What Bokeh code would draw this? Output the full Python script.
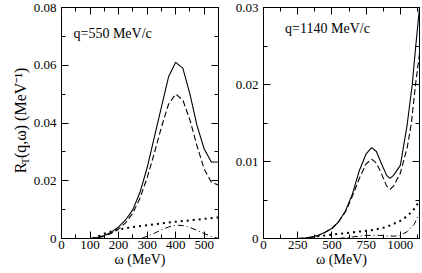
import math
from bokeh.plotting import figure
from bokeh.layouts import row
from bokeh.models import Range1d, LinearAxis, Label, SingleIntervalTicker, CustomJSTickFormatter
from bokeh.embed import file_html
from bokeh.resources import INLINE

FONT = "Liberation Serif"

# ---------------- data: q = 550 MeV/c ----------------
w1_main = [100, 125, 150, 175, 200, 225, 250, 275, 300, 325, 350, 375, 400, 425, 450, 475, 500, 525, 550]
r1_solid = [0, 0.0003, 0.001, 0.0022, 0.004, 0.0065, 0.0100, 0.0160, 0.0245, 0.0350, 0.0455, 0.0560, 0.0610,
            0.0590, 0.0500, 0.0390, 0.0310, 0.0265, 0.0265]
r1_dashed = [0, 0.0002, 0.0008, 0.0018, 0.0033, 0.0055, 0.0088, 0.0140, 0.0210, 0.0295, 0.0385, 0.0465, 0.0500,
             0.0480, 0.0410, 0.0320, 0.0240, 0.0195, 0.0185]
w1_dot = [110, 150, 200, 250, 300, 350, 400, 450, 500, 550]
r1_dot = [0, 0.0017, 0.0031, 0.0040, 0.0046, 0.0052, 0.0058, 0.0063, 0.0068, 0.0073]
w1_dd = [280, 300, 325, 350, 375, 400, 425, 450, 475, 500, 525, 550]
r1_dd = [0, 0.0008, 0.0018, 0.0030, 0.0040, 0.0046, 0.0045, 0.0038, 0.0028, 0.0017, 0.0007, 0.0]

# ---------------- data: q = 1140 MeV/c ----------------
w2_main = [250, 300, 350, 400, 450, 500, 550, 600, 650, 700, 750, 790, 825, 860, 900, 925, 950, 1000, 1050,
           1087, 1110, 1140]
r2_solid = [0, 0.00005, 0.0002, 0.0004, 0.0008, 0.0013, 0.0022, 0.0036, 0.0058, 0.0088, 0.0110, 0.0118, 0.0113,
            0.0098, 0.0082, 0.0078, 0.0082, 0.0095, 0.0148, 0.0200, 0.0245, 0.0300]
w2_dash = [250, 300, 350, 400, 450, 500, 550, 600, 650, 700, 750, 790, 825, 860, 900, 925, 950, 1000, 1050,
           1080, 1111, 1140]
r2_dashed = [0, 0.00005, 0.0002, 0.0004, 0.0008, 0.0013, 0.0022, 0.0035, 0.0055, 0.0078, 0.0097, 0.0103, 0.0098,
             0.0085, 0.0068, 0.0064, 0.0068, 0.0085, 0.0118, 0.0149, 0.0200, 0.0240]
w2_dot = [350, 400, 500, 600, 700, 800, 900, 1000, 1050, 1100, 1140]
r2_dot = [0.0001, 0.0003, 0.0005, 0.0007, 0.0009, 0.0011, 0.0015, 0.0023, 0.0029, 0.0038, 0.0049]
w2_dd = [550, 650, 750, 850, 950, 1000, 1050, 1100, 1140]
r2_dd = [0, 0.0002, 0.0004, 0.0004, 0.0003, 0.0004, 0.0009, 0.0018, 0.0033]

x1_ticks = (100, 50)
y1_ticks = (0.02, 0.01)
x2_ticks = (250, 125)
y2_ticks = (0.01, 0.005)

H = 273


def style_axis(ax, major, minor, show_labels):
    ax.ticker = SingleIntervalTicker(interval=major, num_minor_ticks=int(round(major / minor)))
    ax.major_tick_in = 7
    ax.major_tick_out = 0
    ax.minor_tick_in = 4
    ax.minor_tick_out = 0
    ax.axis_line_color = "black"
    ax.major_tick_line_color = "black"
    ax.minor_tick_line_color = "black"
    ax.major_label_text_font = FONT
    ax.major_label_text_color = "black"
    ax.axis_label_text_font = FONT
    ax.axis_label_text_font_style = "normal"
    ax.axis_label_text_color = "black"
    if show_labels:
        ax.major_label_text_font_size = "13px"
        ax.major_label_standoff = 5
        ax.axis_label_text_font_size = "14px"
        ax.axis_label_standoff = 0
        ax.major_label_overrides = {0: "0"}
    else:
        ax.major_label_text_font_size = "0px"
        ax.major_label_standoff = 0
        ax.formatter = CustomJSTickFormatter(code="return ''")


def make_panel(xmax, ymax, xt, yt, width, bl, br, qtext, qx, qy):
    p = figure(width=width, height=H, output_backend="svg", toolbar_location=None,
               x_range=Range1d(0, xmax), y_range=Range1d(0, ymax),
               min_border_left=bl, min_border_right=br, min_border_top=7, min_border_bottom=35,
               background_fill_color="white", border_fill_color="white")
    p.outline_line_color = "black"
    p.outline_line_alpha = 1
    p.xgrid.visible = False
    p.ygrid.visible = False
    style_axis(p.xaxis[0], xt[0], xt[1], True)
    style_axis(p.yaxis[0], yt[0], yt[1], True)
    p.xaxis[0].major_label_standoff = 2
    p.xaxis[0].axis_label = "ω (MeV)"
    top = LinearAxis()
    right = LinearAxis()
    style_axis(top, xt[0], xt[1], False)
    style_axis(right, yt[0], yt[1], False)
    p.add_layout(top, "above")
    p.add_layout(right, "right")
    p.add_layout(Label(x=qx, y=qy, text=qtext, text_font=FONT, text_font_size="14px",
                       text_baseline="middle", text_color="black"))
    return p


# narrow panel that only carries the rotated y-axis title
p0 = figure(width=30, height=H, output_backend="svg", toolbar_location=None,
            x_range=Range1d(0, 30), y_range=Range1d(0, H), x_axis_type=None, y_axis_type=None,
            min_border=0, min_border_left=0, min_border_right=0, min_border_top=0, min_border_bottom=0)
p0.outline_line_color = None
p0.xgrid.visible = False
p0.ygrid.visible = False
ylab = [("R", "16px", 0, 0), ("T", "11px", 4, 10.7), ("(q,ω) (MeV⁻¹)", "16px", 0, 18)]
for txt, fs, dx, dy in ylab:
    p0.add_layout(Label(x=20 + dx, y=77 + dy, text=txt, angle=math.pi / 2, text_font=FONT,
                        text_font_size=fs, text_baseline="middle", text_align="left",
                        text_color="black"))

p1 = make_panel(550, 0.08, x1_ticks, y1_ticks, 202, 28, 14, "q=550 MeV/c", 42, 0.0711)
p1.line(w1_main, r1_solid, line_color="black", line_width=1.1)
p1.line(w1_main, r1_dashed, line_color="black", line_width=1.1, line_dash="6 3")
p1.line(w1_dot, r1_dot, line_color="black", line_width=2, line_dash="2 4")
p1.line(w1_dd, r1_dd, line_color="black", line_width=1, line_dash="6 3 1 3")

p2 = make_panel(1140, 0.03, x2_ticks, y2_ticks, 190, 28, 3, "q=1140 MeV/c", 158, 0.0273)
p2.line(w2_main, r2_solid, line_color="black", line_width=1.1)
p2.line(w2_dash, r2_dashed, line_color="black", line_width=1.1, line_dash="6 3")
p2.line(w2_dot, r2_dot, line_color="black", line_width=2, line_dash="2 4")
p2.line(w2_dd, r2_dd, line_color="black", line_width=1, line_dash="6 3 1 3")

layout = row(p0, p1, p2)
open("out.html", "w").write(file_html(layout, INLINE))
